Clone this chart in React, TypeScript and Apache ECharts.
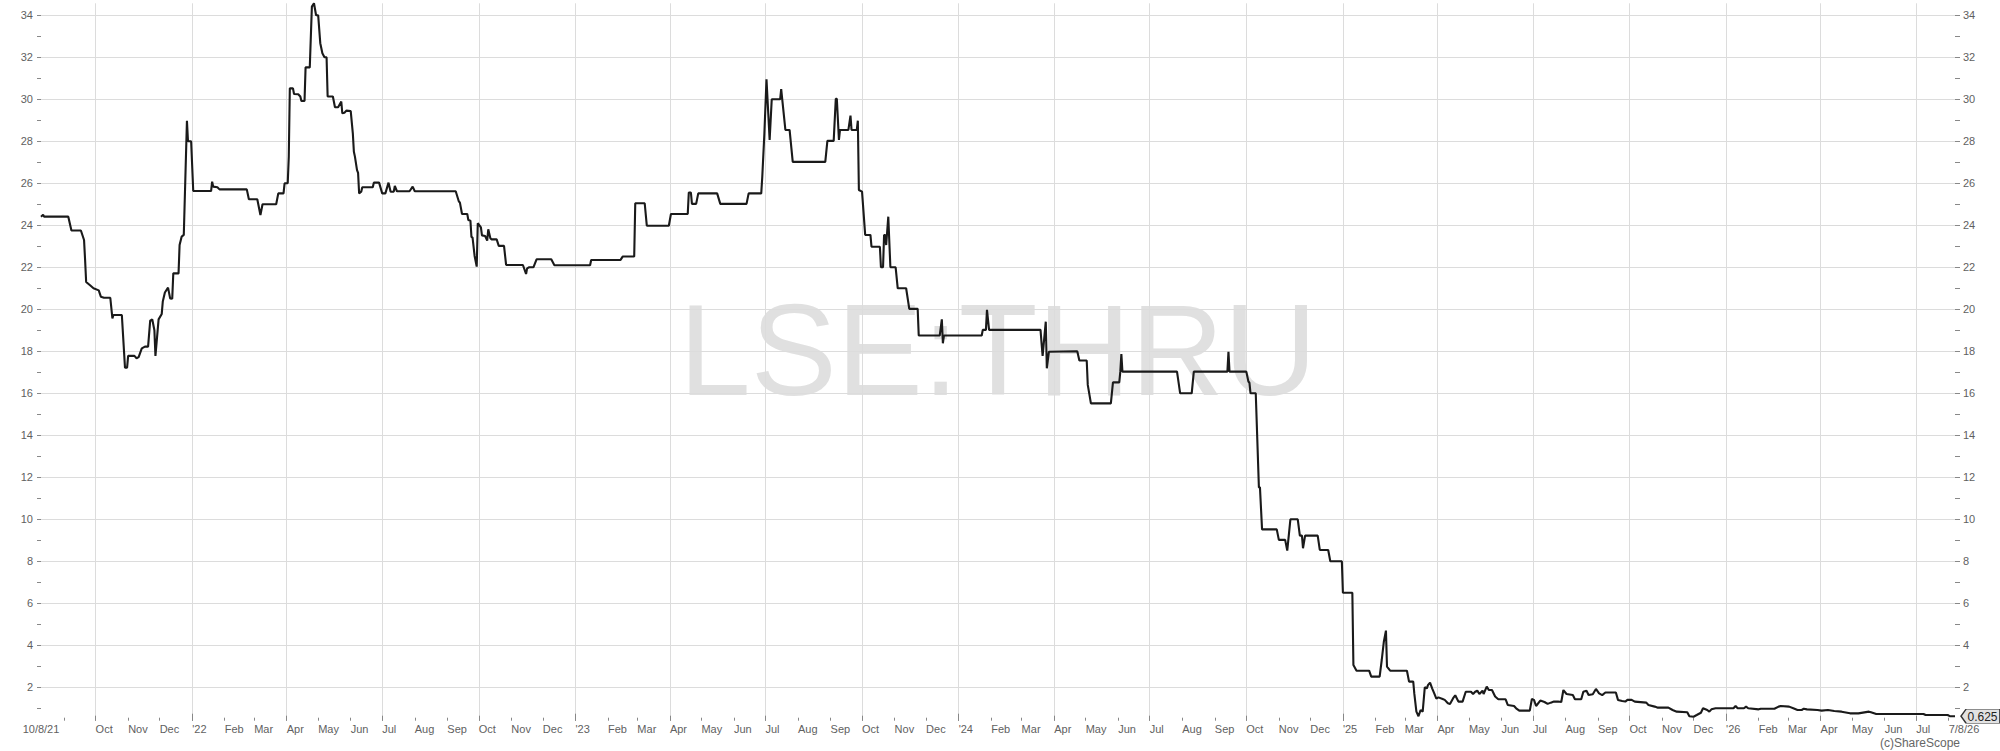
import React, { useEffect, useRef } from "react";
import * as echarts from "echarts";

const START_DATE = "2021-08-10";
const END_DATE = "2026-08-07";
const TICKER = "LSE:THRU";
const COPYRIGHT = "(c)ShareScope";
const Y_MIN = 0.6;
const Y_MAX = 34.57;
const Y_MAJOR_TICKS = [2, 4, 6, 8, 10, 12, 14, 16, 18, 20, 22, 24, 26, 28, 30, 32, 34];
const Y_MINOR_TICKS = [1, 3, 5, 7, 9, 11, 13, 15, 17, 19, 21, 23, 25, 27, 29, 31, 33];
const MONTH_NAMES = ["Jan", "Feb", "Mar", "Apr", "May", "Jun", "Jul", "Aug", "Sep", "Oct", "Nov", "Dec"];

type Pt = [string, number];

const prices2021: Pt[] = [
  ["2021-08-10", 24.41], ["2021-08-12", 24.5], ["2021-08-13", 24.41], ["2021-09-05", 24.41],
  ["2021-09-07", 23.97], ["2021-09-08", 23.75], ["2021-09-17", 23.75], ["2021-09-20", 23.3],
  ["2021-09-21", 22.35], ["2021-09-22", 21.3], ["2021-09-26", 21.13], ["2021-09-29", 21.0],
  ["2021-10-04", 20.9], ["2021-10-06", 20.6], ["2021-10-09", 20.55], ["2021-10-15", 20.55],
  ["2021-10-17", 19.57], ["2021-10-18", 19.73], ["2021-10-26", 19.73], ["2021-10-29", 17.22],
  ["2021-10-31", 17.22], ["2021-11-01", 17.78], ["2021-11-07", 17.78], ["2021-11-09", 17.67],
  ["2021-11-11", 17.72], ["2021-11-14", 18.14], ["2021-11-17", 18.22], ["2021-11-20", 18.22],
  ["2021-11-22", 19.46], ["2021-11-24", 19.52], ["2021-11-26", 19.0], ["2021-11-27", 17.78],
  ["2021-11-30", 19.52], ["2021-12-03", 19.78], ["2021-12-04", 20.37], ["2021-12-06", 20.8],
  ["2021-12-09", 21.03], ["2021-12-11", 20.52], ["2021-12-13", 20.5], ["2021-12-14", 21.71],
  ["2021-12-19", 21.71], ["2021-12-20", 23.06], ["2021-12-22", 23.46], ["2021-12-24", 23.54],
  ["2021-12-27", 28.98], ["2021-12-28", 28.0], ["2021-12-31", 28.0],
];

const prices2022: Pt[] = [
  ["2022-01-02", 25.63], ["2022-01-19", 25.63], ["2022-01-20", 26.08], ["2022-01-21", 25.84],
  ["2022-01-25", 25.81], ["2022-01-27", 25.71], ["2022-02-22", 25.71], ["2022-02-24", 25.24],
  ["2022-03-04", 25.24], ["2022-03-07", 24.49], ["2022-03-09", 25.0], ["2022-03-22", 25.0],
  ["2022-03-24", 25.52], ["2022-03-29", 25.52], ["2022-03-30", 26.0], ["2022-04-02", 26.0],
  ["2022-04-03", 27.27], ["2022-04-04", 30.52], ["2022-04-07", 30.52], ["2022-04-08", 30.25],
  ["2022-04-12", 30.24], ["2022-04-14", 30.13], ["2022-04-15", 29.92], ["2022-04-18", 29.92],
  ["2022-04-19", 31.52], ["2022-04-23", 31.52], ["2022-04-25", 34.41], ["2022-04-27", 34.57],
  ["2022-04-29", 34.0], ["2022-05-01", 34.0], ["2022-05-03", 32.67], ["2022-05-05", 32.19],
  ["2022-05-07", 32.0], ["2022-05-09", 32.0], ["2022-05-10", 30.13], ["2022-05-15", 30.13],
  ["2022-05-17", 29.62], ["2022-05-20", 29.62], ["2022-05-23", 29.89], ["2022-05-24", 29.33],
  ["2022-05-26", 29.36], ["2022-05-28", 29.46], ["2022-06-01", 29.44], ["2022-06-03", 28.38],
  ["2022-06-04", 27.5], ["2022-06-05", 27.27], ["2022-06-07", 26.63], ["2022-06-08", 26.5],
  ["2022-06-09", 25.52], ["2022-06-11", 25.6], ["2022-06-12", 25.81], ["2022-06-22", 25.81],
  ["2022-06-23", 26.03], ["2022-06-28", 26.03], ["2022-07-01", 25.52], ["2022-07-04", 25.52],
  ["2022-07-07", 26.03], ["2022-07-09", 25.6], ["2022-07-12", 25.6], ["2022-07-13", 25.87],
  ["2022-07-15", 25.62], ["2022-07-27", 25.62], ["2022-07-30", 25.84], ["2022-08-01", 25.62],
  ["2022-09-09", 25.62], ["2022-09-12", 25.13], ["2022-09-13", 25.08], ["2022-09-15", 24.54],
  ["2022-09-20", 24.54], ["2022-09-21", 24.25], ["2022-09-23", 24.22], ["2022-09-24", 23.43],
  ["2022-09-25", 23.43], ["2022-09-27", 22.54], ["2022-09-29", 22.03], ["2022-09-30", 24.1],
  ["2022-10-03", 23.9], ["2022-10-04", 23.52], ["2022-10-07", 23.49], ["2022-10-09", 23.27],
  ["2022-10-10", 23.81], ["2022-10-12", 23.38], ["2022-10-13", 23.33], ["2022-10-18", 23.33],
  ["2022-10-20", 23.02], ["2022-10-25", 23.02], ["2022-10-27", 22.11], ["2022-11-12", 22.11],
  ["2022-11-15", 21.68], ["2022-11-16", 21.95], ["2022-11-18", 22.0], ["2022-11-22", 22.0],
  ["2022-11-25", 22.38], ["2022-12-09", 22.38], ["2022-12-12", 22.1],
];

const prices2023: Pt[] = [
  ["2023-01-15", 22.1], ["2023-01-16", 22.35], ["2023-02-13", 22.35], ["2023-02-15", 22.51],
  ["2023-02-26", 22.51], ["2023-02-27", 25.05], ["2023-03-08", 25.05], ["2023-03-10", 23.98],
  ["2023-03-31", 23.98], ["2023-04-02", 24.54], ["2023-04-18", 24.54], ["2023-04-19", 25.56],
  ["2023-04-21", 25.56], ["2023-04-22", 25.02], ["2023-04-26", 25.02], ["2023-04-28", 25.52],
  ["2023-05-16", 25.52], ["2023-05-19", 25.02], ["2023-06-13", 25.02], ["2023-06-15", 25.52],
  ["2023-06-27", 25.52], ["2023-06-28", 26.32], ["2023-06-30", 28.38], ["2023-07-02", 30.95],
  ["2023-07-05", 28.06], ["2023-07-07", 30.0], ["2023-07-15", 30.0], ["2023-07-16", 30.48],
  ["2023-07-17", 30.0], ["2023-07-20", 28.54], ["2023-07-24", 28.54], ["2023-07-27", 27.02],
  ["2023-08-27", 27.02], ["2023-08-29", 28.02], ["2023-09-04", 28.02], ["2023-09-06", 30.02],
  ["2023-09-07", 30.02], ["2023-09-09", 28.06], ["2023-09-10", 28.54], ["2023-09-18", 28.54],
  ["2023-09-20", 29.22], ["2023-09-21", 28.54], ["2023-09-26", 28.54], ["2023-09-27", 28.98],
  ["2023-09-28", 25.68], ["2023-10-01", 25.6], ["2023-10-04", 23.54], ["2023-10-09", 23.54],
  ["2023-10-10", 22.98], ["2023-10-18", 22.98], ["2023-10-19", 22.0], ["2023-10-21", 22.0],
  ["2023-10-22", 23.54], ["2023-10-23", 23.54], ["2023-10-24", 23.06], ["2023-10-26", 24.41],
  ["2023-10-28", 22.0], ["2023-11-02", 22.0], ["2023-11-04", 21.0], ["2023-11-12", 21.0],
  ["2023-11-15", 20.02], ["2023-11-23", 20.02], ["2023-11-24", 18.75], ["2023-12-14", 18.75],
  ["2023-12-16", 19.52], ["2023-12-17", 18.38], ["2023-12-18", 18.75],
];

const prices2024: Pt[] = [
  ["2024-01-23", 18.75], ["2024-01-24", 19.02], ["2024-01-27", 19.02], ["2024-01-28", 19.97],
  ["2024-01-30", 19.02], ["2024-03-19", 19.02], ["2024-03-20", 18.38], ["2024-03-21", 17.78],
  ["2024-03-24", 19.41], ["2024-03-25", 17.19], ["2024-03-27", 17.98], ["2024-04-23", 18.0],
  ["2024-04-25", 17.56], ["2024-05-02", 17.56], ["2024-05-03", 16.4], ["2024-05-06", 15.52],
  ["2024-05-25", 15.52], ["2024-05-27", 16.52], ["2024-06-02", 16.52], ["2024-06-03", 17.03],
  ["2024-06-04", 17.87], ["2024-06-05", 17.03], ["2024-07-27", 17.03], ["2024-07-30", 16.0],
  ["2024-08-10", 16.0], ["2024-08-12", 17.03], ["2024-09-13", 17.03], ["2024-09-14", 17.98],
  ["2024-09-15", 17.03], ["2024-10-01", 17.03], ["2024-10-03", 16.56], ["2024-10-04", 16.5],
  ["2024-10-05", 16.0], ["2024-10-10", 16.0], ["2024-10-13", 11.52], ["2024-10-14", 11.52],
  ["2024-10-16", 9.52], ["2024-10-30", 9.52], ["2024-11-01", 9.02], ["2024-11-07", 9.02],
  ["2024-11-09", 8.51], ["2024-11-12", 10.0], ["2024-11-19", 10.0], ["2024-11-21", 9.22],
  ["2024-11-23", 9.22], ["2024-11-24", 8.62], ["2024-11-26", 9.22], ["2024-12-08", 9.22],
  ["2024-12-10", 8.54], ["2024-12-18", 8.54], ["2024-12-20", 8.0], ["2024-12-31", 8.0],
];

const prices2025: Pt[] = [
  ["2025-01-01", 6.5], ["2025-01-10", 6.5], ["2025-01-11", 3.06], ["2025-01-14", 2.79],
  ["2025-01-26", 2.79], ["2025-01-28", 2.51], ["2025-02-05", 2.51], ["2025-02-07", 3.3],
  ["2025-02-09", 4.17], ["2025-02-11", 4.7], ["2025-02-12", 2.98], ["2025-02-15", 2.79],
  ["2025-03-03", 2.79], ["2025-03-05", 2.27], ["2025-03-09", 2.27], ["2025-03-10", 1.71],
  ["2025-03-12", 0.84], ["2025-03-14", 0.62], ["2025-03-16", 0.92], ["2025-03-18", 0.84],
  ["2025-03-20", 2.0], ["2025-03-22", 1.95], ["2025-03-23", 2.1], ["2025-03-25", 2.22],
  ["2025-03-27", 1.95], ["2025-03-29", 1.71], ["2025-03-31", 1.46], ["2025-04-02", 1.52],
  ["2025-04-06", 1.44], ["2025-04-08", 1.4], ["2025-04-11", 1.24], ["2025-04-13", 1.21],
  ["2025-04-16", 1.48], ["2025-04-18", 1.62], ["2025-04-21", 1.32], ["2025-04-25", 1.32],
  ["2025-04-28", 1.79], ["2025-05-03", 1.79], ["2025-05-05", 1.68], ["2025-05-07", 1.79],
  ["2025-05-09", 1.84], ["2025-05-11", 1.68], ["2025-05-14", 1.84], ["2025-05-15", 1.68],
  ["2025-05-18", 2.03], ["2025-05-20", 1.87], ["2025-05-23", 1.87], ["2025-05-26", 1.56],
  ["2025-05-29", 1.43], ["2025-06-05", 1.43], ["2025-06-07", 1.16], ["2025-06-13", 1.11],
  ["2025-06-15", 1.0], ["2025-06-18", 0.89], ["2025-06-28", 0.89], ["2025-06-30", 1.44],
  ["2025-07-02", 1.4], ["2025-07-04", 1.11], ["2025-07-08", 1.37], ["2025-07-12", 1.3],
  ["2025-07-15", 1.21], ["2025-07-18", 1.27], ["2025-07-21", 1.32], ["2025-07-25", 1.32],
  ["2025-07-28", 1.3], ["2025-07-30", 1.87], ["2025-08-02", 1.68], ["2025-08-08", 1.63],
  ["2025-08-10", 1.43], ["2025-08-16", 1.43], ["2025-08-18", 1.79], ["2025-08-21", 1.84],
  ["2025-08-23", 1.63], ["2025-08-27", 1.67], ["2025-08-30", 1.92], ["2025-09-02", 1.71],
  ["2025-09-05", 1.63], ["2025-09-08", 1.75], ["2025-09-18", 1.75], ["2025-09-20", 1.4],
  ["2025-09-24", 1.35], ["2025-09-27", 1.32], ["2025-09-29", 1.4], ["2025-10-03", 1.4],
  ["2025-10-06", 1.32], ["2025-10-17", 1.27], ["2025-10-19", 1.16], ["2025-10-25", 1.08],
  ["2025-10-28", 1.03], ["2025-11-07", 1.03], ["2025-11-11", 0.92], ["2025-11-15", 0.84],
  ["2025-11-25", 0.81], ["2025-11-27", 0.62], ["2025-12-01", 0.6], ["2025-12-04", 0.68],
  ["2025-12-08", 0.79], ["2025-12-10", 1.0], ["2025-12-14", 0.92], ["2025-12-16", 0.84],
  ["2025-12-18", 0.95], ["2025-12-22", 1.0],
];

const prices2026: Pt[] = [
  ["2026-01-08", 1.0], ["2026-01-10", 1.11], ["2026-01-12", 1.0], ["2026-01-18", 1.0],
  ["2026-01-20", 1.08], ["2026-01-22", 1.0], ["2026-02-01", 0.95], ["2026-02-03", 0.98],
  ["2026-02-16", 0.98], ["2026-02-20", 1.08], ["2026-02-22", 1.11], ["2026-03-02", 1.08],
  ["2026-03-06", 1.0], ["2026-03-10", 0.92], ["2026-03-14", 0.92], ["2026-03-16", 0.98],
  ["2026-03-19", 0.95], ["2026-03-29", 0.92], ["2026-04-02", 0.89], ["2026-04-08", 0.92],
  ["2026-04-14", 0.87], ["2026-04-21", 0.84], ["2026-04-29", 0.76], ["2026-05-07", 0.76],
  ["2026-05-17", 0.84], ["2026-05-19", 0.81], ["2026-05-24", 0.73], ["2026-07-08", 0.73],
  ["2026-07-10", 0.68], ["2026-07-31", 0.68], ["2026-08-02", 0.625], ["2026-08-07", 0.625],
];

const FONT = '"Liberation Sans", Arial, Helvetica, sans-serif';
const DAY = 86400000;
const ts = (s: string) => Date.parse(s + "T00:00:00Z");
const shortDate = (s: string) => {
  const d = new Date(ts(s));
  return `${d.getUTCDate()}/${d.getUTCMonth() + 1}/${String(d.getUTCFullYear()).slice(2)}`;
};

export default function App() {
  const ref = useRef<HTMLDivElement>(null);

  useEffect(() => {
    if (!ref.current) return;
    const chart = echarts.init(ref.current, null, { renderer: "svg" });

    const tStart = ts(START_DATE);
    const tEnd = ts(END_DATE);
    const series = [...prices2021, ...prices2022, ...prices2023, ...prices2024, ...prices2025, ...prices2026].map(
      ([d, v]) => [ts(d), v]
    );
    const last = series[series.length - 1];

    const months: number[] = [];
    {
      const s = new Date(tStart);
      let y = s.getUTCFullYear();
      let m = s.getUTCMonth() + 1;
      for (;;) {
        if (m > 11) { m = 0; y++; }
        const t = Date.UTC(y, m, 1);
        if (t > tEnd) break;
        months.push(t);
        m++;
      }
    }
    const quarters = months.filter((t) => new Date(t).getUTCMonth() % 3 === 0);
    const years = months.filter((t) => new Date(t).getUTCMonth() === 0);
    const monthLabelVals = months.filter((t) => t - tStart > 30 * DAY);
    const lastMonth = months[months.length - 1];

    const labelBase = { color: "#5f5f5f", fontSize: 11, fontFamily: FONT };
    const tickLine = { color: "#888", width: 1 };
    const gridLine = { color: "#dcdcdc", width: 1, type: "solid" };

    const xCommon = {
      type: "value",
      min: tStart,
      max: tEnd,
      position: "bottom",
      offset: 4,
      axisLine: { show: false },
    };
    const yCommon = {
      type: "value",
      min: Y_MIN,
      max: Y_MAX,
      axisLine: { show: false },
    };

    const option: any = {
      animation: false,
      backgroundColor: "#ffffff",
      grid: { left: 41, right: 45, top: 3.3, bottom: 34.3, containLabel: false, outerBoundsMode: "none" },
      graphic: [
        {
          type: "text",
          x: 998,
          y: 350,
          z: -10,
          silent: true,
          style: {
            text: TICKER,
            fontSize: 129,
            fontFamily: FONT,
            fill: "#e0e0e0",
            align: "center",
            verticalAlign: "middle",
            textAlign: "center",
            textVerticalAlign: "middle",
          },
        },
        {
          type: "text",
          x: 1960,
          y: 743,
          silent: true,
          style: {
            text: COPYRIGHT,
            fontSize: 12,
            fontFamily: FONT,
            fill: "#666",
            align: "right",
            verticalAlign: "middle",
            textAlign: "right",
            textVerticalAlign: "middle",
          },
        },
      ],
      xAxis: [
        {
          ...xCommon,
          axisTick: { show: true, inside: true, length: 3, customValues: months, lineStyle: tickLine },
          axisLabel: {
            ...labelBase,
            customValues: monthLabelVals,
            align: "left",
            margin: 3,
            formatter: (v: number) => {
              if (v === lastMonth) return shortDate(END_DATE);
              const d = new Date(v);
              const m = d.getUTCMonth();
              return m === 0 ? "'" + String(d.getUTCFullYear()).slice(2) : MONTH_NAMES[m];
            },
          },
          splitLine: { show: false },
        },
        {
          ...xCommon,
          axisTick: { show: true, inside: true, length: 5, customValues: quarters, lineStyle: tickLine },
          axisLabel: { show: false },
          splitLine: { show: true, lineStyle: gridLine },
        },
        {
          ...xCommon,
          axisTick: { show: true, inside: true, length: 7, customValues: years, lineStyle: tickLine },
          axisLabel: {
            ...labelBase,
            customValues: [tStart],
            align: "center",
            margin: 3,
            formatter: () => shortDate(START_DATE),
          },
          splitLine: { show: false },
        },
      ],
      yAxis: [
        {
          ...yCommon,
          position: "left",
          axisTick: { show: true, length: 4, customValues: Y_MAJOR_TICKS, lineStyle: tickLine },
          axisLabel: { ...labelBase, customValues: Y_MAJOR_TICKS, margin: 8 },
          splitLine: { show: true, lineStyle: gridLine },
        },
        {
          ...yCommon,
          position: "left",
          axisTick: { show: true, length: 4, customValues: Y_MINOR_TICKS, lineStyle: tickLine },
          axisLabel: { show: false },
          splitLine: { show: false },
        },
        {
          ...yCommon,
          position: "right",
          axisTick: { show: true, length: 5, customValues: Y_MAJOR_TICKS, lineStyle: tickLine },
          axisLabel: { ...labelBase, customValues: Y_MAJOR_TICKS, margin: 8 },
          splitLine: { show: false },
        },
        {
          ...yCommon,
          position: "right",
          axisTick: { show: true, length: 5, customValues: Y_MINOR_TICKS, lineStyle: tickLine },
          axisLabel: { show: false },
          splitLine: { show: false },
        },
      ],
      series: [
        {
          type: "line",
          xAxisIndex: 0,
          yAxisIndex: 0,
          data: series,
          showSymbol: false,
          symbol: "none",
          clip: false,
          z: 5,
          lineStyle: { color: "#1a1a1a", width: 2.1 },
          markPoint: {
            symbol: "path://M0,7L5,0L39,0L39,14L5,14Z",
            symbolSize: [39, 14],
            symbolOffset: [25.5, 0],
            silent: true,
            itemStyle: { color: "#e2e2e2", borderColor: "#333", borderWidth: 1 },
            label: {
              show: true,
              position: "inside",
              formatter: "{c}",
              color: "#222",
              fontSize: 12,
              fontFamily: FONT,
              offset: [2, 0.5],
            },
            data: [{ coord: last, value: last[1] }],
          },
        },
      ],
    };

    chart.setOption(option);
    return () => chart.dispose();
  }, []);

  return <div ref={ref} style={{ position: "fixed", left: 0, top: 0, width: 2000, height: 751 }} />;
}
